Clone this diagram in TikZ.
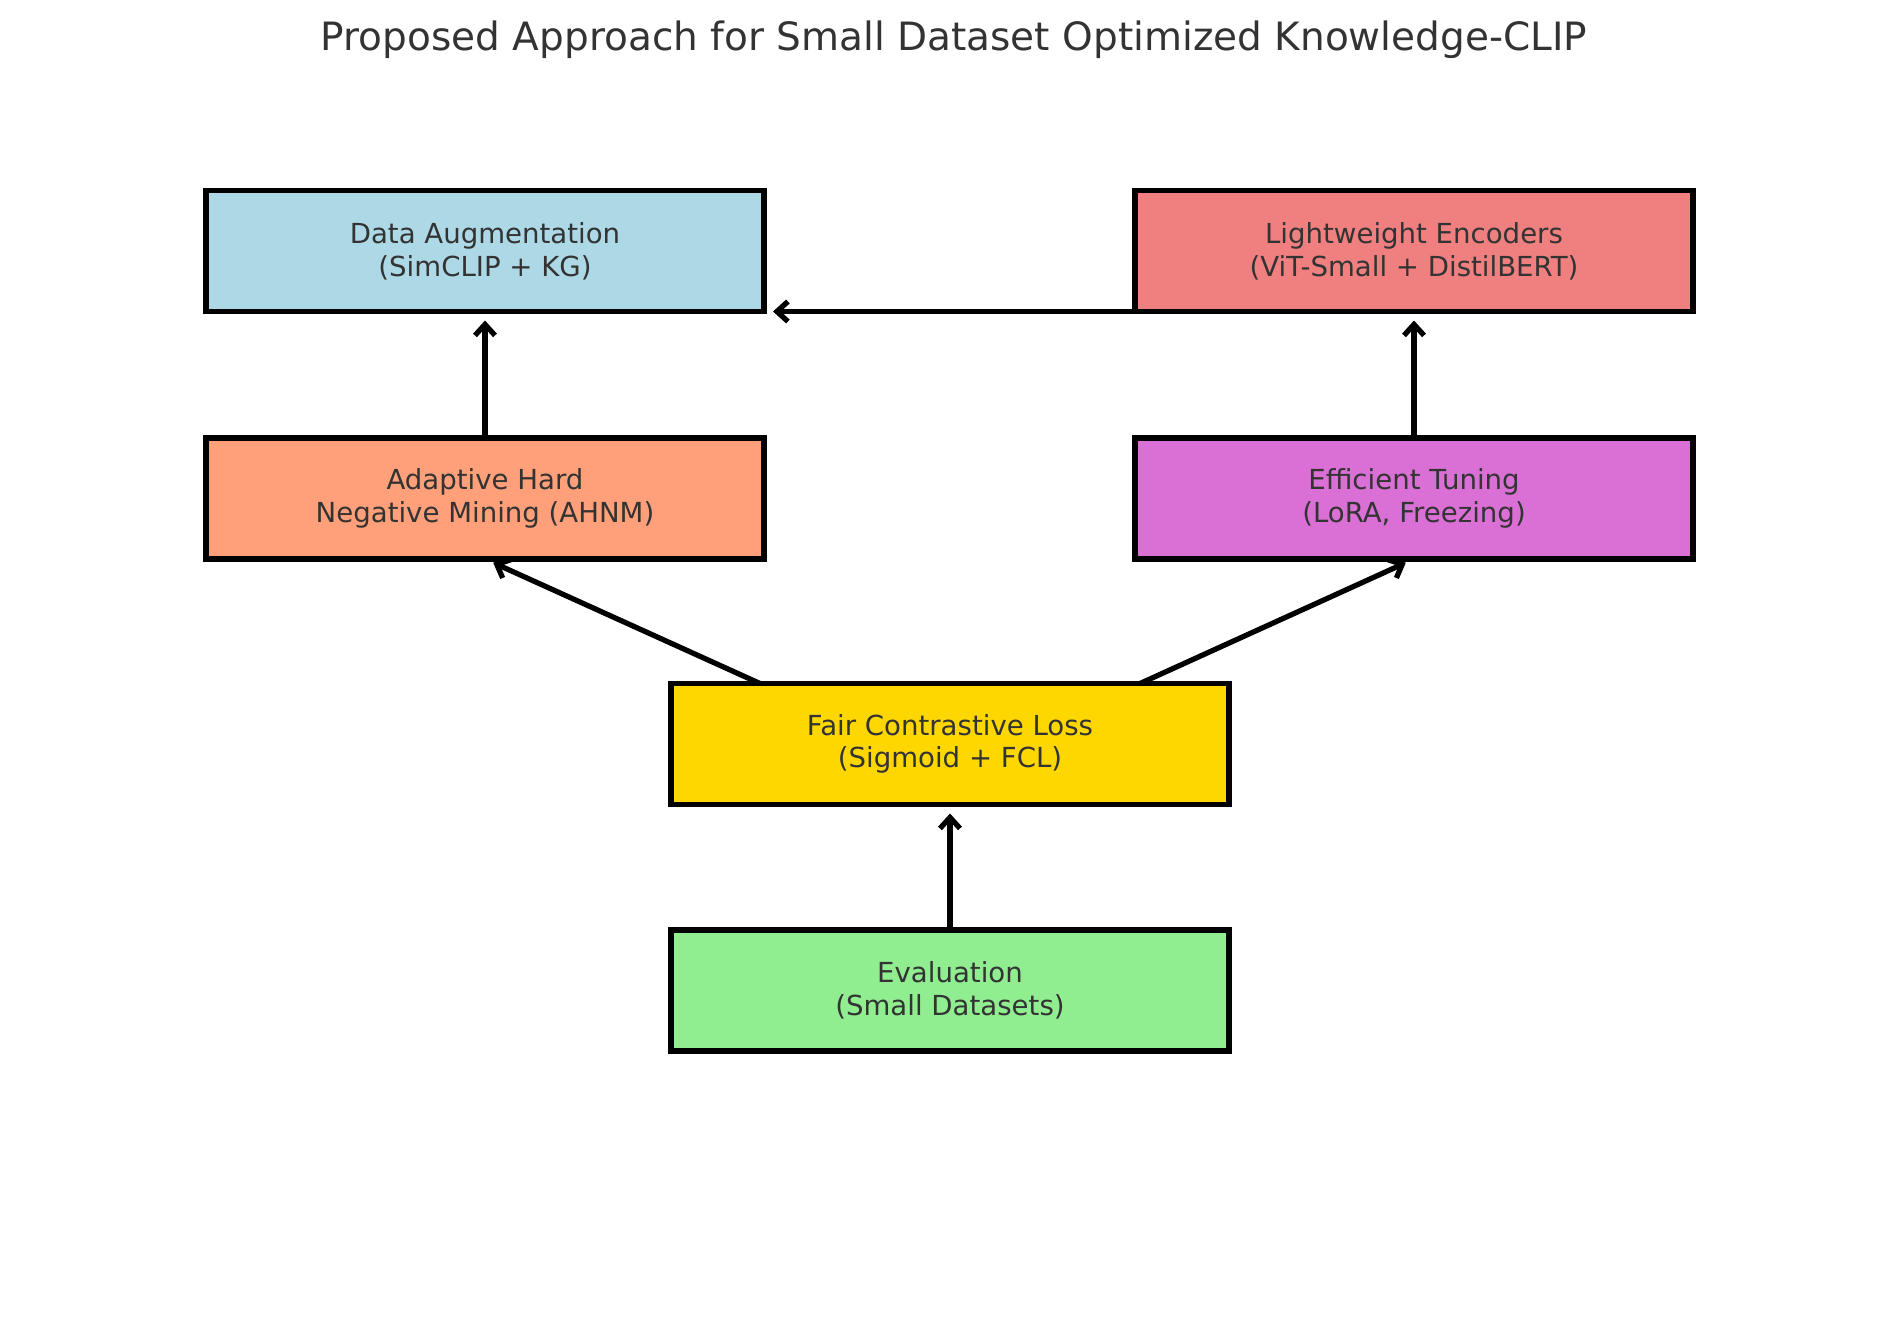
\documentclass[tikz,border=0pt]{standalone}
\usepackage{fontspec}
\setmainfont{DejaVu Sans}
\usetikzlibrary{arrows.meta}
\definecolor{txtgray}{HTML}{333333}
\definecolor{lightblue}{HTML}{ADD8E6}
\definecolor{lightcoral}{HTML}{F08080}
\definecolor{lightsalmon}{HTML}{FFA07A}
\definecolor{orchid}{HTML}{DA70D6}
\definecolor{gold}{HTML}{FFD700}
\definecolor{lightgreen}{HTML}{90EE90}
\begin{document}
\begin{tikzpicture}[x=0.1mm, y=-0.1mm, font=\fontsize{7.85}{9.3}\selectfont,
	box/.style={draw=black, line width=1.6pt, minimum width=55.8mm, minimum height=12.1mm, inner sep=0pt, outer sep=0pt, align=center, text=txtgray},
	arr/.style={-{Straight Barb[length=1.1mm,width=2.0mm]}, line width=1.5pt, line cap=round, shorten >=0.9mm}]
	\useasboundingbox (0,0) rectangle (1900,1318);
	\def\xl{485} \def\xm{950} \def\xr{1414}
	\node[text=txtgray, font=\fontsize{11.1}{13}\selectfont] (title) at (954,40) {Proposed Approach for Small Dataset Optimized Knowledge-CLIP};
	\node[box, fill=lightblue] (aug) at (\xl,251) {Data Augmentation\\(SimCLIP + KG)};
	\node[box, fill=lightcoral] (enc) at (\xr,251) {Lightweight Encoders\\(ViT-Small + DistilBERT)};
	\node[box, fill=lightsalmon] (ahnm) at (\xl,498.5) {Adaptive Hard\\Negative Mining (AHNM)};
	\node[box, fill=orchid] (tune) at (\xr,498.5) {Efficient Tuning\\(LoRA, Freezing)};
	\node[box, fill=gold] (fcl) at (\xm,744) {Fair Contrastive Loss\\(Sigmoid + FCL)};
	\node[box, fill=lightgreen] (eval) at (\xm,990.5) {Evaluation\\(Small Datasets)};

	\draw[arr] (enc.south west) -- (aug.south east);
	\draw[arr] (ahnm.north) -- (aug.south);
	\draw[arr] (tune.north) -- (enc.south);
	\draw[arr] ([xshift=-19mm]fcl.north) -- (ahnm.south);
	\draw[arr] ([xshift=19mm]fcl.north) -- (tune.south);
	\draw[arr] (eval.north) -- (fcl.south);
\end{tikzpicture}
\end{document}
